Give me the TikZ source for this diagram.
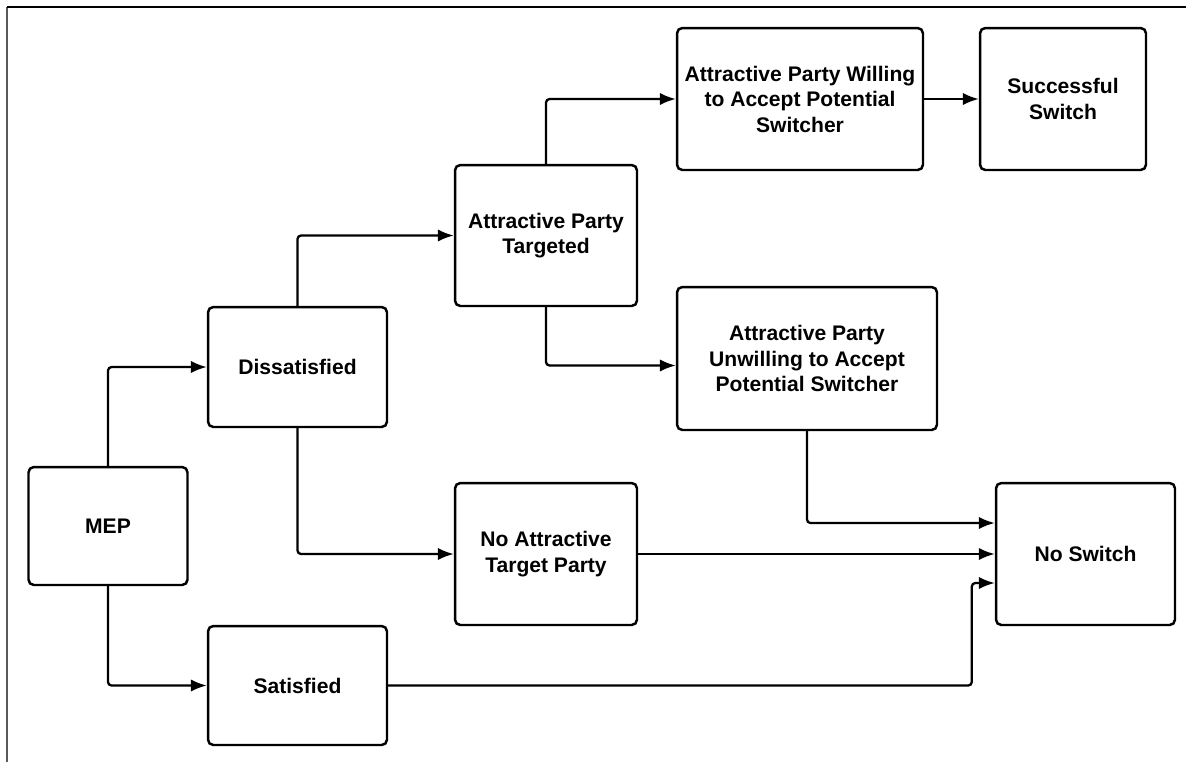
\documentclass[tikz,border=0pt]{standalone}
\usepackage{fontspec}
\setmainfont{Liberation Sans}
\usetikzlibrary{arrows.meta}
\begin{document}
\begin{tikzpicture}[x=0.02cm,y=-0.02cm,
    box/.style={draw,line width=1.4pt,rounded corners=3pt,align=center,
        font=\fontsize{12}{14.5}\selectfont\bfseries,inner sep=2pt},
    arr/.style={line width=1.3pt,rounded corners=2pt,-{Latex[length=9pt,width=7pt]}}]
        \useasboundingbox (0,0) rectangle (1186,762);
        \draw[line width=1.3pt,black!65] (7,762) -- (7,7);
        \draw[line width=1.3pt] (7,7) -- (1186,7);

        \node[box,minimum width=3.18cm,minimum height=2.36cm] (mep) at (108,526){MEP};
        \node[box,minimum width=3.58cm,minimum height=2.40cm] (dis) at (297.5,367){Dissatisfied};
        \node[box,minimum width=3.58cm,minimum height=2.38cm] (sat) at (297.5,685.5){Satisfied};
        \node[box,minimum width=3.64cm,minimum height=2.82cm] (tgt) at (546,235.5){Attractive Party\\Targeted};
        \node[box,minimum width=3.64cm,minimum height=2.84cm] (noatt) at (546,554){No Attractive\\Target Party};
        \node[box,minimum width=4.92cm,minimum height=2.84cm] (will) at (800,99){Attractive Party Willing\\to Accept Potential\\Switcher};
        \node[box,minimum width=3.32cm,minimum height=2.84cm] (succ) at (1063,99){Successful\\Switch};
        \node[box,minimum width=5.20cm,minimum height=2.86cm] (unw) at (807,358.5){Attractive Party\\Unwilling to Accept\\Potential Switcher};
        \node[box,minimum width=3.58cm,minimum height=2.84cm] (nosw) at (1085.5,554){No Switch};

        \draw[arr] (mep.north) |- (dis.west);
        \draw[arr] (mep.south) |- (sat.west);
        \draw[arr] (dis.north) |- (tgt.west);
        \draw[arr] (dis.south) |- (noatt.west);
        \draw[arr] (tgt.north) |- (will.west);
        \draw[arr] (tgt.south) |- ([yshift=-0.14cm]unw.west);
        \draw[arr] (will) -- (succ);
        \draw[arr] (unw.south) |- ([yshift=0.62cm]nosw.west);
        \draw[arr] (noatt) -- (nosw);
        \draw[arr] (sat.east) -| ([xshift=-0.46cm,yshift=-0.58cm]nosw.west) -- ([yshift=-0.58cm]nosw.west);
    \end{tikzpicture}
\end{document}
